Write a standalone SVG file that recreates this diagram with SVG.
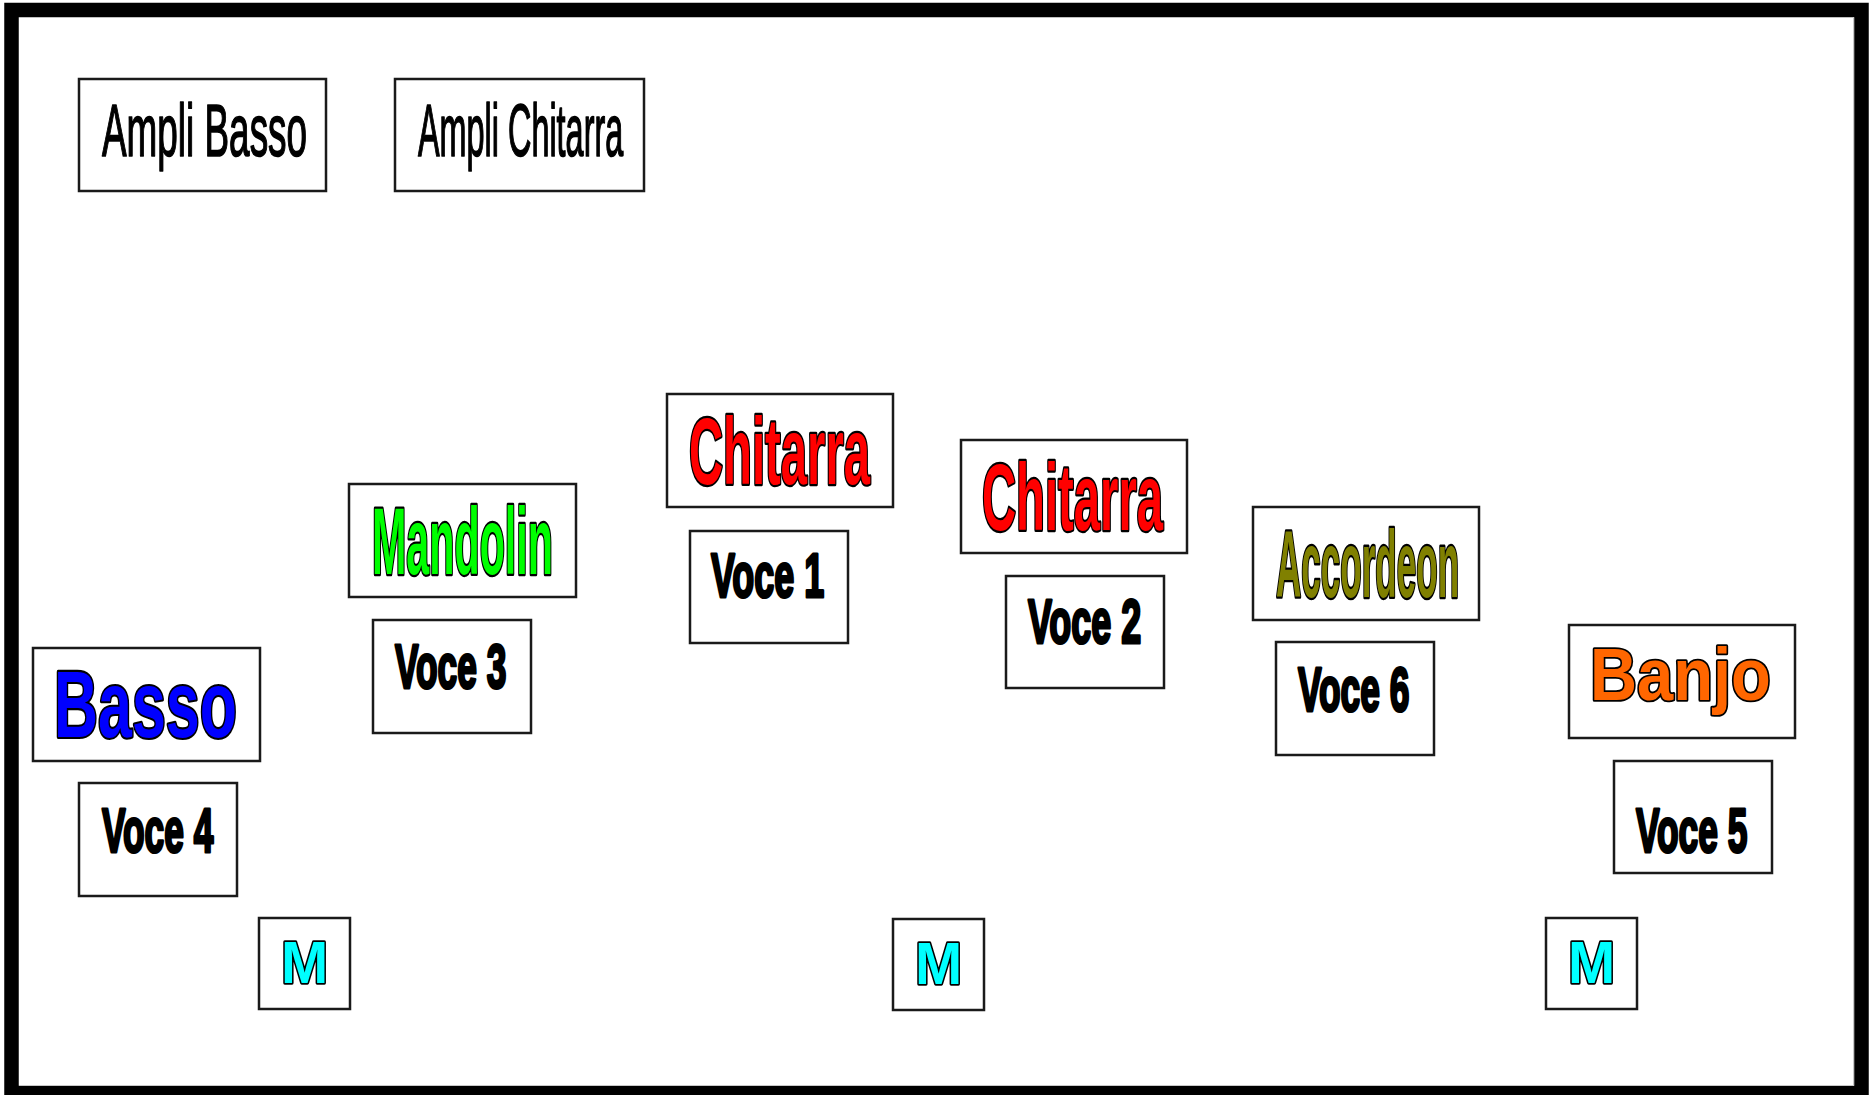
<svg xmlns="http://www.w3.org/2000/svg" width="1874" height="1095" viewBox="0 0 1874 1095">
<style>
.box{fill:#fff;stroke:#1a1a1a;stroke-width:2.5}
.t{font-family:"Liberation Sans",Arial,sans-serif;vector-effect:non-scaling-stroke;stroke-linejoin:round}
.amp{font-size:75px;font-weight:normal;fill:#000;stroke:#000;stroke-width:1.3}
.ins{font-size:95px;font-weight:bold;stroke:#000;stroke-width:3.5;paint-order:stroke}
.voc{font-size:63px;font-weight:bold;fill:#000;stroke:#000;stroke-width:2.6}
.mic{font-size:59px;font-weight:bold;fill:#00ffff;stroke:#000;stroke-width:3.2;paint-order:stroke}
</style>
<rect x="0" y="0" width="1874" height="1095" fill="#fff"/>
<g id="frame">
<rect x="11.5" y="10" width="1850" height="1083" fill="none" stroke="#000" stroke-width="14.5"/>
<line x1="1853.5" y1="17" x2="1853.5" y2="1086" stroke="#c8c8c8" stroke-width="1"/>
<line x1="19" y1="1085.5" x2="1854" y2="1085.5" stroke="#c8c8c8" stroke-width="1"/>
</g>
<g id="ampli-basso"><rect class="box" x="79" y="79" width="247" height="112"/><text class="t amp" transform="translate(102,156) scale(0.492,1)">Ampli Basso</text></g>
<g id="ampli-chitarra"><rect class="box" x="395" y="79" width="249" height="112"/><text class="t amp" transform="translate(418,156) scale(0.432,1)">Ampli Chitarra</text></g>
<g id="chitarra-1"><rect class="box" x="667" y="394" width="226" height="113"/><text class="t ins" fill="#ff0000" transform="translate(689,484) scale(0.497,1)">Chitarra</text></g>
<g id="chitarra-2"><rect class="box" x="961" y="440" width="226" height="113"/><text class="t ins" fill="#ff0000" transform="translate(982,530) scale(0.497,1)">Chitarra</text></g>
<g id="mandolin"><rect class="box" x="349" y="484" width="227" height="113"/><text class="t ins" fill="#00ff00" transform="translate(372,574) scale(0.434,1)">Mandolin</text></g>
<g id="accordeon"><rect class="box" x="1253" y="507" width="226" height="113"/><text class="t ins" fill="#808000" transform="translate(1276,597) scale(0.369,1)">Accordeon</text></g>
<g id="basso"><rect class="box" x="33" y="648" width="227" height="113"/><text class="t ins" fill="#0000ff" transform="translate(54,737) scale(0.642,1)">Basso</text></g>
<g id="banjo"><rect class="box" x="1569" y="625" width="226" height="113"/><text class="t ins" style="font-size:74px" fill="#ff6600" transform="translate(1590,700) scale(0.88,1)">Banjo</text></g>
<g id="voce-1"><rect class="box" x="690" y="531" width="158" height="112"/><text class="t voc" transform="translate(711,597) scale(0.571,1)">Voce 1</text></g>
<g id="voce-2"><rect class="box" x="1006" y="576" width="158" height="112"/><text class="t voc" transform="translate(1028,643) scale(0.571,1)">Voce 2</text></g>
<g id="voce-3"><rect class="box" x="373" y="620" width="158" height="113"/><text class="t voc" transform="translate(395,688) scale(0.561,1)">Voce 3</text></g>
<g id="voce-4"><rect class="box" x="79" y="783" width="158" height="113"/><text class="t voc" transform="translate(102,852) scale(0.561,1)">Voce 4</text></g>
<g id="voce-5"><rect class="box" x="1614" y="761" width="158" height="112"/><text class="t voc" transform="translate(1636,852) scale(0.561,1)">Voce 5</text></g>
<g id="voce-6"><rect class="box" x="1276" y="642" width="158" height="113"/><text class="t voc" transform="translate(1298,711) scale(0.561,1)">Voce 6</text></g>
<g id="mic-1"><rect class="box" x="259" y="918" width="91" height="91"/><text class="t mic" transform="translate(281,983) scale(0.96,1)">M</text></g>
<g id="mic-2"><rect class="box" x="893" y="919" width="91" height="91"/><text class="t mic" transform="translate(915,984) scale(0.96,1)">M</text></g>
<g id="mic-3"><rect class="box" x="1546" y="918" width="91" height="91"/><text class="t mic" transform="translate(1568,983) scale(0.96,1)">M</text></g>
<g id="connectors"></g>
</svg>
